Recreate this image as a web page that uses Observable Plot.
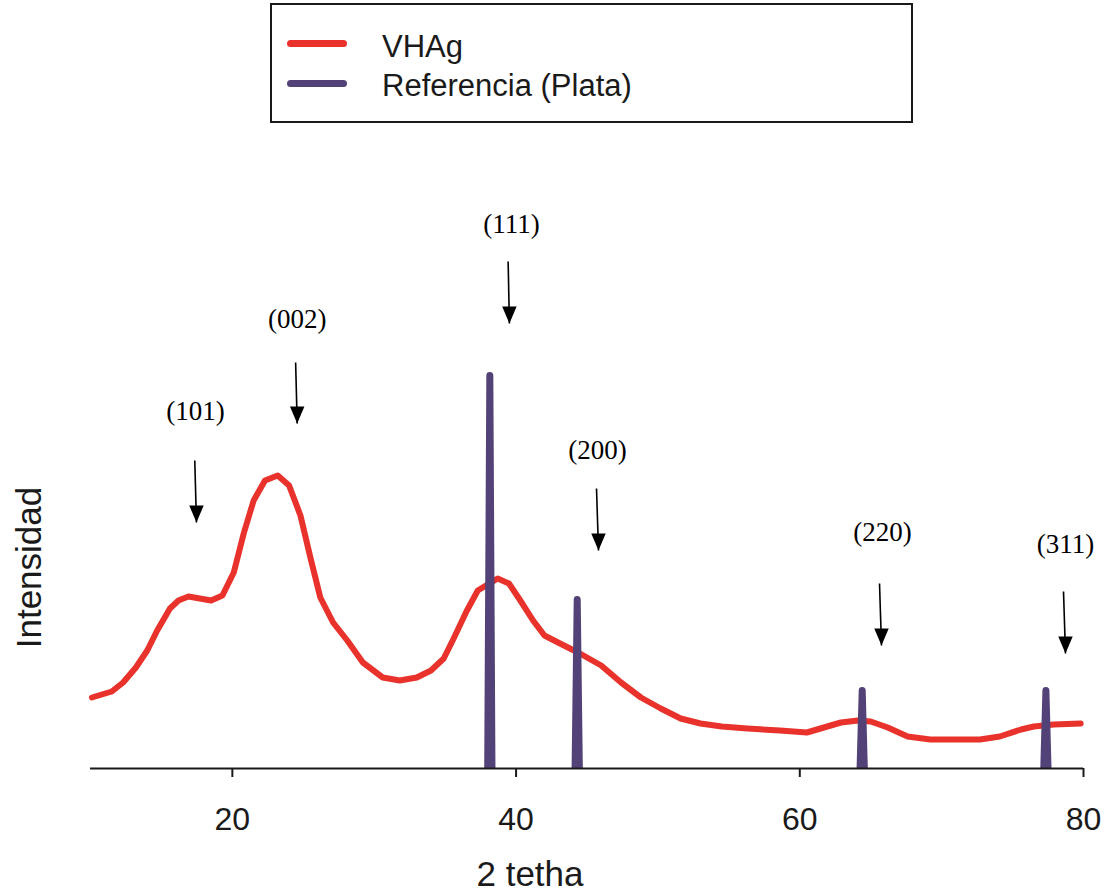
<!DOCTYPE html>
<html>
<head>
<meta charset="utf-8">
<script src="https://cdn.jsdelivr.net/npm/d3@7"></script>
<script src="https://cdn.jsdelivr.net/npm/@observablehq/plot@0.6"></script>
<style>
  html, body { margin: 0; padding: 0; background: #fff; }
  #wrap { width: 1104px; height: 892px; position: relative; overflow: hidden; }
  #legend { position: relative; width: 1104px; height: 125px; font-family: "Liberation Sans", Arial, sans-serif; }
  #legend .box { position: absolute; left: 270px; top: 3px; width: 639px; height: 116px; border: 2px solid #1a1a1a; }
  #legend .swatch { position: absolute; left: 287px; width: 60px; height: 7px; border-radius: 4px; }
  #legend .lbl { position: absolute; left: 382px; font-size: 31px; line-height: 31px; color: #1a1a1a; white-space: nowrap; }
  #chart svg { display: block; }
</style>
</head>
<body>
<div id="wrap">
  <div id="legend"></div>
  <div id="chart"></div>
</div>
<script>
// ---- data ----
const seriesNames = ["VHAg", "Referencia (Plata)"];
const seriesColors = ["#e8322b", "#524278"];

// VHAg diffractogram (2θ, intensity a.u.)
const vhagX = [10.1, 11.5, 12.3, 13.2, 14.0, 14.7, 15.6, 16.2, 16.9, 18.5, 19.3, 20.1, 20.8, 21.5, 22.3, 23.2, 24.0, 24.8, 25.5, 26.2, 27.1, 28.1, 29.2, 30.6, 31.8, 33.0, 34.0, 34.9, 35.6, 36.5, 37.3, 38.7, 39.5, 40.3, 41.2, 42.0, 43.1, 44.5, 46.0, 47.4, 48.8, 50.2, 51.6, 53.0, 54.5, 56.3, 58.6, 60.5, 61.7, 62.9, 64.1, 65.0, 66.2, 67.6, 69.2, 72.7, 74.1, 75.6, 76.5, 77.9, 79.8];
const vhagY = [71, 77, 86, 101, 118, 138, 160, 168, 172, 168, 173, 196, 235, 268, 288, 293, 283, 253, 211, 171, 146, 128, 106, 91, 88, 91, 98, 110, 130, 157, 178, 190, 185, 168, 148, 133, 125, 115, 103, 86, 71, 60, 50, 45, 42, 40, 38, 36, 41, 46, 48, 47, 41, 32, 29, 29, 32, 39, 42, 44, 45];

// Silver reference peaks
const refPos = [38.15, 44.31, 64.40, 77.35];
const refHeight = [393, 169, 78, 78];

// Plane annotations
const planeLabels = ["(101)", "(002)", "(111)", "(200)", "(220)", "(311)"];
const labelX  = [17.40, 24.57, 39.68, 45.74, 65.83, 78.73];
const labelY  = [357, 449, 544, 318, 236, 224];
const arrowX1 = [17.35, 24.46, 39.44, 45.67, 65.62, 78.59];
const arrowY1 = [308, 406, 507, 280, 185, 177];
const arrowX2 = [17.47, 24.57, 39.53, 45.81, 65.76, 78.73];
const arrowY2 = [246, 345, 445, 218, 123, 115];

const xTicks = [20, 40, 60, 80];
const xDomain = [10, 80];
const yDomain = [0, 620];
const xLabel = "2 tetha";
const yLabel = "Intensidad";

// ---- legend ----
const legend = document.getElementById("legend");
legend.innerHTML = `<div class="box"></div>` + seriesNames.map((n, i) =>
  `<div class="swatch" style="top:${40 + i * 40}px;background:${seriesColors[i]}"></div>
   <div class="lbl" style="top:${31 + i * 39}px">${n}</div>`).join("");

// ---- chart ----
const vhag = vhagX.map((x, i) => ({x, y: vhagY[i]}));
const halfBase = 0.15;
const refLines = refPos.flatMap((p, i) => [
  {x: p - halfBase, y: 0, peak: i},
  {x: p, y: refHeight[i], peak: i},
  {x: p + halfBase, y: 0, peak: i}
]);
const planes = planeLabels.map((label, i) => ({
  label, lx: labelX[i], ly: labelY[i],
  x1: arrowX1[i], y1: arrowY1[i], x2: arrowX2[i], y2: arrowY2[i]
}));

const downHead = {
  draw(context, size) {
    const r = Math.sqrt(size / Math.PI);
    const w = 0.85 * r;
    context.moveTo(0, 0);
    context.lineTo(-w, -2 * r);
    context.lineTo(w, -2 * r);
    context.closePath();
  }
};

const chart = Plot.plot({
  width: 1104,
  height: 767,
  marginLeft: 90,
  marginRight: 21,
  marginTop: 23,
  marginBottom: 124,
  style: {fontFamily: "'Liberation Sans', Arial, sans-serif", color: "#1a1a1a", background: "#fff"},
  x: {domain: xDomain, axis: null},
  y: {domain: yDomain, axis: null},
  marks: [
    Plot.line(vhag, {x: "x", y: "y", stroke: seriesColors[0], strokeWidth: 6, strokeLinejoin: "round", strokeLinecap: "round"}),
    Plot.line(refLines, {x: "x", y: "y", z: "peak", stroke: seriesColors[1], strokeWidth: 7, strokeLinejoin: "round", strokeLinecap: "butt"}),
    Plot.ruleY([0], {stroke: "#1a1a1a", strokeWidth: 2}),
    Plot.axisX({ticks: xTicks, tickSize: 9, tickPadding: 30, fontSize: 32, strokeWidth: 2, label: null, tickFormat: d3.format("d")}),
    Plot.link(planes, {x1: "x1", y1: "y1", x2: "x2", y2: "y2", stroke: "black", strokeWidth: 1.6}),
    Plot.dot(planes, {x: "x2", y: "y2", symbol: downHead, r: 8.5, fill: "black", stroke: "none"}),
    Plot.text(planes, {x: "lx", y: "ly", text: "label", fontSize: 27, fontFamily: "'Liberation Serif', 'Times New Roman', serif", fill: "black"}),
    Plot.text([xLabel], {frameAnchor: "bottom", textAnchor: "middle", lineAnchor: "middle", text: d => d, fontSize: 35, dx: -57, dy: 106, fill: "#1a1a1a"}),
    Plot.text([yLabel], {frameAnchor: "left", textAnchor: "middle", lineAnchor: "middle", text: d => d, fontSize: 35, rotate: -90, dx: -61, dy: 109, fill: "#1a1a1a"})
  ]
});
document.getElementById("chart").appendChild(chart);
</script>
</body>
</html>
